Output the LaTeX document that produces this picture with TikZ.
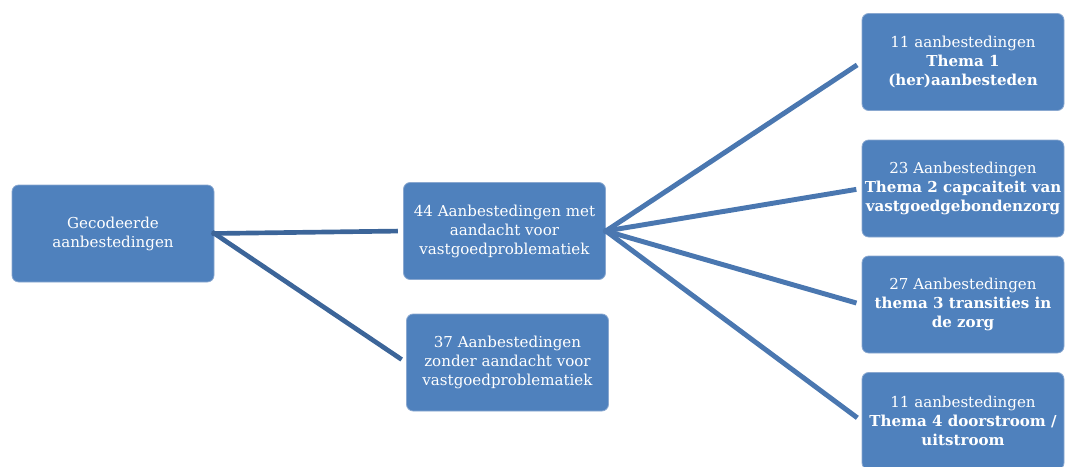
\documentclass[tikz,border=0pt]{standalone}
\usepackage{fontspec}
\setmainfont{DejaVu Serif}
\usetikzlibrary{positioning}

\definecolor{boxblue}{HTML}{4F81BD}
\definecolor{boxedge}{HTML}{8AA8D0}
\definecolor{linkblue}{HTML}{4A77B0}
\definecolor{linkdark}{HTML}{3C6599}

\tikzset{
  box/.style={draw=boxedge, line width=0.6pt, fill=boxblue, rounded corners=5pt,
    text=white, align=center, minimum width=151.5pt, minimum height=72.75pt,
    inner sep=0.5pt, font=\fontsize{11.3}{14.25}\selectfont},
  link/.style={draw=linkblue, line width=3.7pt},
  darklink/.style={draw=linkdark, line width=3.5pt}
}

\begin{document}
\begin{tikzpicture}[x=0.75pt, y=-0.75pt]
	\useasboundingbox (0,0) rectangle (1066,467);

	\node[box] (A) at (113,233.5) {Gecodeerde\\aanbestedingen};
	\node[box] (B) at (504.5,231) {44 Aanbestedingen met\\aandacht voor\\vastgoedproblematiek};
	\node[box] (C) at (507.5,362.5) {37 Aanbestedingen\\zonder aandacht voor\\vastgoedproblematiek};

	\node[box] (T1) at (963,62) {11 aanbestedingen\\\textbf{Thema 1}\\\textbf{(her)aanbesteden}};
	\node[box] (T2) at (963,188.5) {23 Aanbestedingen\\\textbf{Thema 2 capcaiteit van}\\\textbf{vastgoedgebondenzorg}};
	\node[box] (T3) at (963,304.5) {27 Aanbestedingen\\\textbf{thema 3 transities in}\\\textbf{de zorg}};
	\node[box] (T4) at (963,421) {11 aanbestedingen\\\textbf{Thema 4 doorstroom /}\\\textbf{uitstroom}};

	\path[darklink, shorten <=-2pt, shorten >=4pt] (A.east) -- (B.west);
	\path[darklink, shorten <=-2pt, shorten >=4pt] (A.east) -- (C.west);

	\foreach \t in {T1,T2,T3,T4}
		\path[link, shorten <=-1.5pt, shorten >=4pt] (B.east) -- (\t.west);
\end{tikzpicture}
\end{document}
